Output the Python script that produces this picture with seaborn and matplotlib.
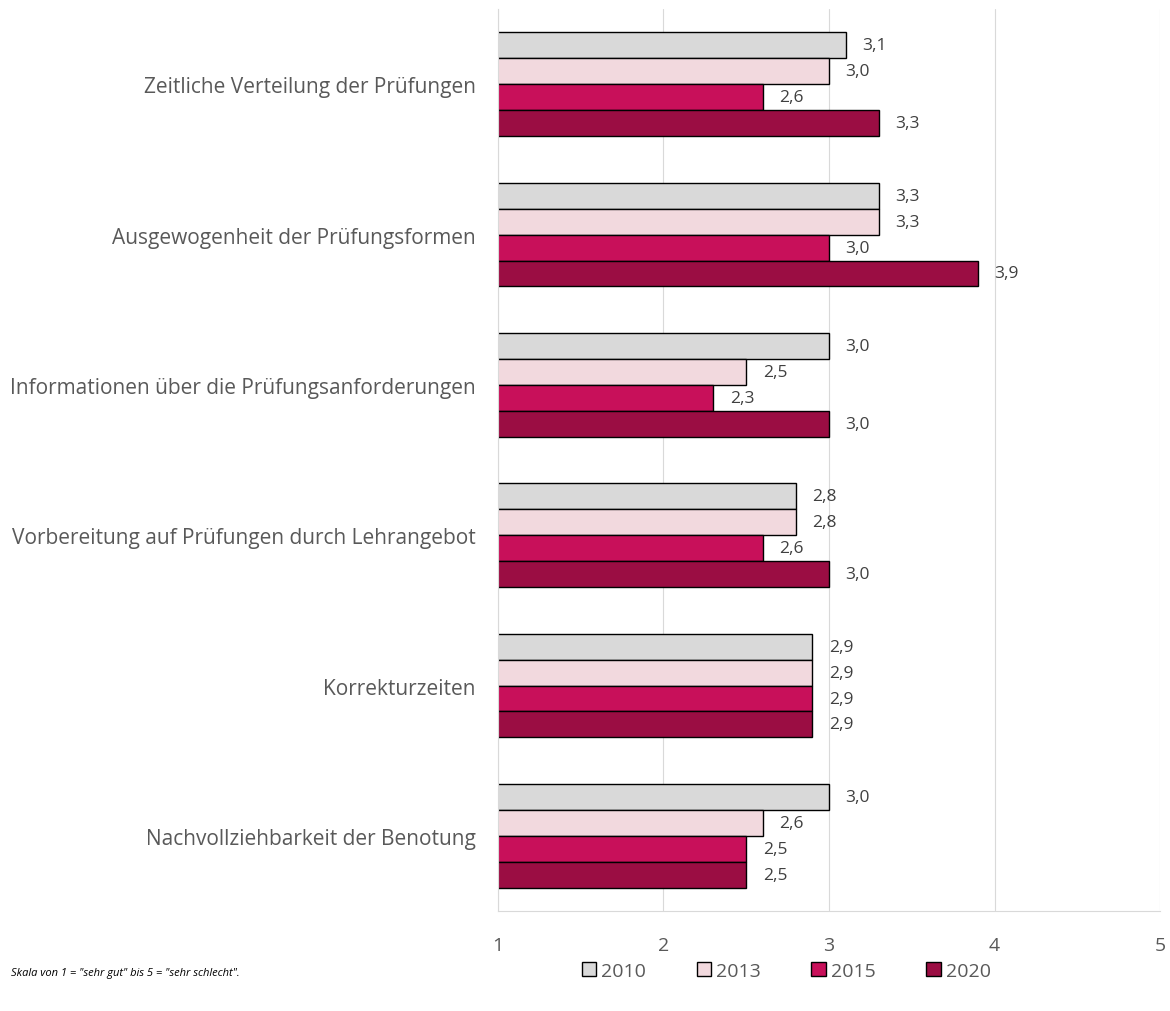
import pandas as pd
import matplotlib
matplotlib.use("Agg")
import matplotlib.pyplot as plt
import seaborn as sns

# data (scale 1 = "sehr gut" ... 5 = "sehr schlecht")
categories = [
    'Zeitliche Verteilung der Prüfungen',
    'Ausgewogenheit der Prüfungsformen',
    'Informationen über die Prüfungsanforderungen',
    'Vorbereitung auf Prüfungen durch Lehrangebot',
    'Korrekturzeiten',
    'Nachvollziehbarkeit der Benotung',
]
years = ['2010', '2013', '2015', '2020']
values_2010 = [3.1, 3.3, 3.0, 2.8, 2.9, 3.0]
values_2013 = [3.0, 3.3, 2.5, 2.8, 2.9, 2.6]
values_2015 = [2.6, 3.0, 2.3, 2.6, 2.9, 2.5]
values_2020 = [3.3, 3.9, 3.0, 3.0, 2.9, 2.5]
colors = ['#d9d9d9', '#f2d9de', '#c8105a', '#9b0d43']

rows = []
for year, vals in zip(years, [values_2010, values_2013, values_2015, values_2020]):
    for cat, v in zip(categories, vals):
        rows.append({'Kategorie': cat, 'Jahr': year, 'Wert': v})
df = pd.DataFrame(rows)

sns.set_theme(style="white")
plt.rcParams['font.family'] = ['Open Sans', 'DejaVu Sans']

fig = plt.figure(figsize=(11.7, 10.12), dpi=100)
ax = fig.add_axes([0.4256, 0.0988, 0.5659, 0.8912])

sns.barplot(data=df, y='Kategorie', x='Wert', hue='Jahr', order=categories,
            hue_order=years, palette=colors, saturation=1, orient='h',
            width=0.69, edgecolor='black', linewidth=1, ax=ax, legend=False,
            errorbar=None)

# Excel-style axis starting at 1, bars are clipped at the axis
ax.set_xlim(1, 5)
ax.set_xticks([1, 2, 3, 4, 5])
ax.set_ylim(len(categories) - 0.5, -0.5)

for cont in ax.containers:
    ax.bar_label(cont, labels=[f"{b.get_width():.1f}".replace('.', ',') for b in cont],
                 padding=12, fontsize=12.5, color='#404040')

ax.set_xlabel('')
ax.set_ylabel('')
ax.grid(axis='x', color='#d9d9d9', linewidth=0.8)
ax.set_axisbelow(True)
for s in ['top', 'right']:
    ax.spines[s].set_visible(False)
ax.spines['left'].set_color('#d9d9d9')
ax.spines['left'].set_linewidth(0.8)
ax.spines['bottom'].set_color('#d9d9d9')
ax.spines['bottom'].set_linewidth(0.8)
ax.tick_params(axis='x', length=0, pad=18, labelsize=14, labelcolor='#595959')
ax.tick_params(axis='y', length=0, pad=16, labelsize=15, labelcolor='#595959')

handles = [plt.Rectangle((0, 0), 1, 1, facecolor=c, edgecolor='black', linewidth=1)
           for c in colors]
fig.legend(handles, years, loc='center', bbox_to_anchor=(0.672, 0.040), ncol=4,
           frameon=False, fontsize=14, handlelength=0.75, handleheight=0.75,
           handletextpad=0.25, columnspacing=2.6, labelcolor='#595959')

fig.text(0.009, 0.038, 'Skala von 1 = "sehr gut" bis 5 = "sehr schlecht".',
         fontsize=8, style='italic', color='black', va='center')

fig.savefig('out.png', dpi=100)
